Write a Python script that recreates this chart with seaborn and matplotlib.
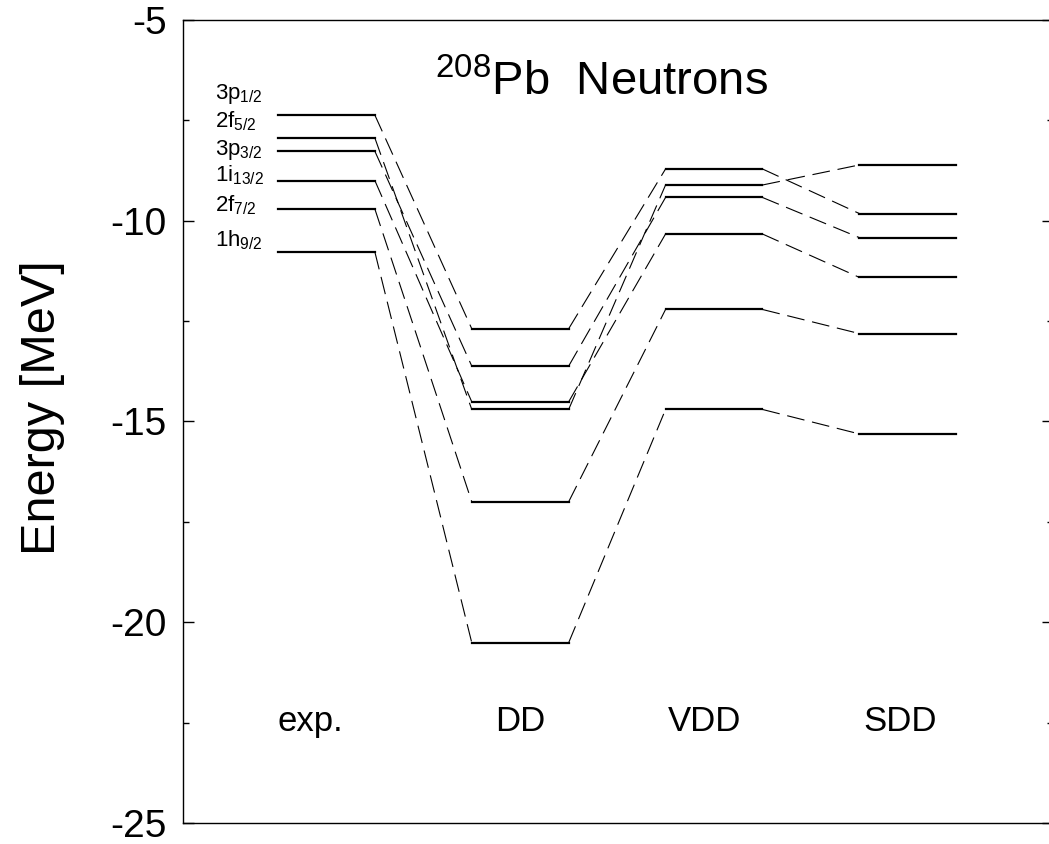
import matplotlib
matplotlib.use("Agg")
import matplotlib.pyplot as plt
import seaborn as sns
import pandas as pd
from matplotlib.ticker import MultipleLocator

# single particle states, top to bottom in the experimental column
states = ["3p_{1/2}", "2f_{5/2}", "3p_{3/2}", "1i_{13/2}", "2f_{7/2}", "1h_{9/2}"]
columns = ["exp.", "DD", "VDD", "SDD"]

# energies [MeV] per state for each column
e_exp = [-7.37, -7.94, -8.27, -9.00, -9.71, -10.78]
e_dd = [-12.69, -14.70, -13.62, -14.51, -17.00, -20.51]
e_vdd = [-8.71, -9.11, -9.42, -10.33, -12.21, -14.70]
e_sdd = [-9.82, -8.61, -10.42, -11.41, -12.81, -15.31]

# where the state names sit (text baselines, MeV)
label_y = [-6.97, -7.67, -8.36, -9.03, -9.76, -10.65]

energies = [e_exp, e_dd, e_vdd, e_sdd]

# build tables: flat level segments and dashed connectors between columns
lev_rows, con_rows = [], []
for c, vals in enumerate(energies):
    x0 = 1 + 2 * c
    for s, e in enumerate(vals):
        lev_rows.append({"seg": f"{c}-{s}", "x": x0, "E": e})
        lev_rows.append({"seg": f"{c}-{s}", "x": x0 + 1, "E": e})
        if c < len(energies) - 1:
            con_rows.append({"seg": f"{c}-{s}", "x": x0 + 1, "E": e})
            con_rows.append({"seg": f"{c}-{s}", "x": x0 + 2, "E": energies[c + 1][s]})
levels = pd.DataFrame(lev_rows)
links = pd.DataFrame(con_rows)

plt.rcParams["font.family"] = ["Liberation Sans", "DejaVu Sans"]
plt.rcParams["mathtext.fontset"] = "custom"
plt.rcParams["mathtext.rm"] = "Liberation Sans"
plt.rcParams["mathtext.it"] = "Liberation Sans"
plt.rcParams["axes.unicode_minus"] = False

fig = plt.figure(figsize=(10.49, 8.44), dpi=100)
ax = fig.add_axes([0.1745, 0.0249, 0.8294, 0.9514])

sns.lineplot(data=levels, x="x", y="E", units="seg", estimator=None,
             color="black", lw=1.6, sort=False, ax=ax)
sns.lineplot(data=links, x="x", y="E", units="seg", estimator=None,
             color="black", lw=0.8, sort=False, linestyle=(0, (16, 7)), ax=ax)

ax.set_xlim(0.02, 9.0)
ax.set_ylim(-25, -5)

# state names
for name, y in zip(states, label_y):
    ax.text(0.35, y, r"$\mathregular{" + name + "}$", fontsize=16,
            ha="left", va="baseline")

# column names
for xc, name in zip([1.33, 3.5, 5.4, 7.42], columns):
    ax.text(xc, -22.48, name, fontsize=25, ha="center", va="center")

ax.text(2.62, -6.87, r"$\mathregular{^{208}}$Pb  Neutrons", fontsize=34,
        ha="left", va="baseline")

ax.set_xticks([])
ax.set_xlabel("")
ax.yaxis.set_major_locator(MultipleLocator(5))
ax.yaxis.set_minor_locator(MultipleLocator(2.5))
ax.tick_params(axis="y", which="both", direction="in", left=True, right=True,
               labelsize=28, pad=12, width=1.0)
ax.tick_params(axis="y", which="major", length=8)
ax.tick_params(axis="y", which="minor", length=4.5)
ax.set_ylabel("Energy [MeV]", fontsize=35)
ax.yaxis.set_label_coords(-0.136, 0.517)
for sp in ax.spines.values():
    sp.set_linewidth(1.0)

fig.savefig("out.png", dpi=100)
